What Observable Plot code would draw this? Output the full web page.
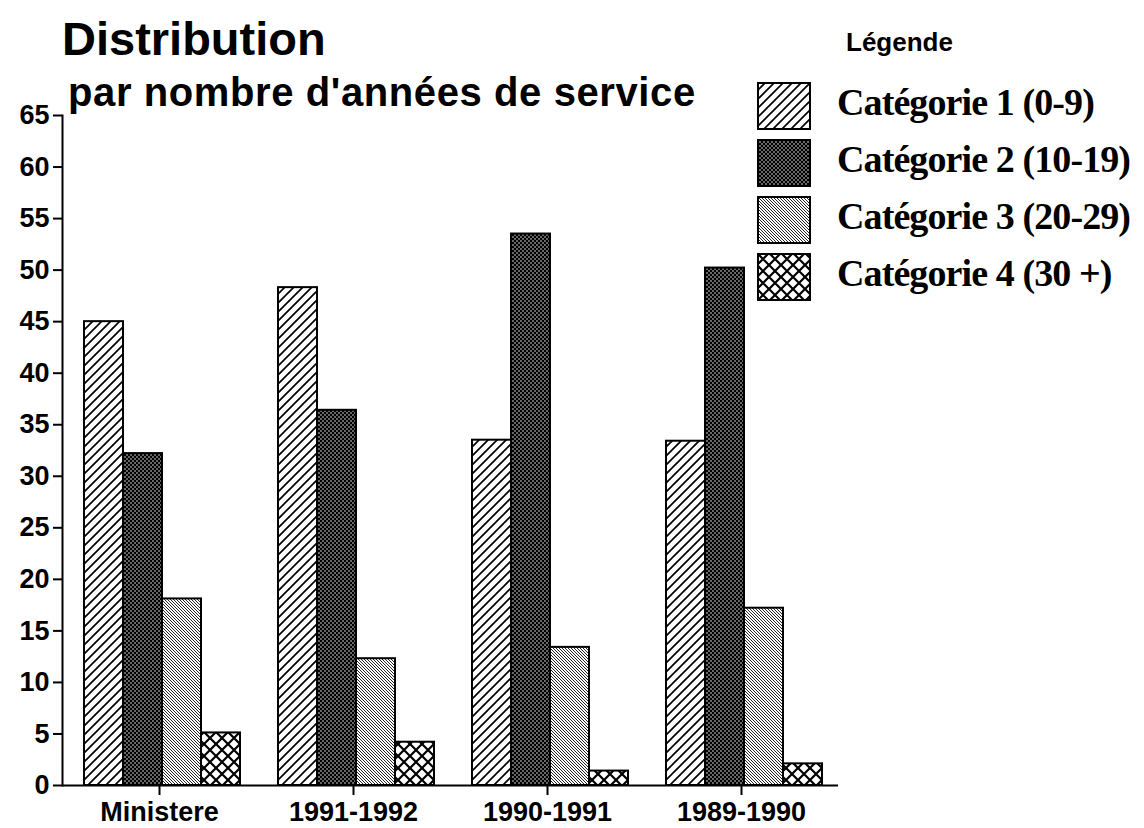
<!DOCTYPE html>
<html>
<head>
<meta charset="utf-8">
<script src="https://cdn.jsdelivr.net/npm/d3@7"></script>
<script src="https://cdn.jsdelivr.net/npm/@observablehq/plot@0.6"></script>
<style>
  html, body { margin: 0; padding: 0; background: #fff; }
  #wrap { position: relative; width: 1144px; height: 828px; overflow: hidden; background: #fff; }
  #chart { position: absolute; left: 0; top: 0; }
  .title { position: absolute; left: 62px; top: 15px; font: bold 47px "Liberation Sans", Arial, sans-serif; line-height: 1; white-space: nowrap; color: #000; }
  .subtitle { position: absolute; left: 68px; top: 72px; font: bold 40px "Liberation Sans", Arial, sans-serif; letter-spacing: 0.6px; line-height: 1; white-space: nowrap; color: #000; }
  .legtitle { position: absolute; left: 846px; top: 29px; font: bold 26px "Liberation Sans", Arial, sans-serif; line-height: 1; color: #000; }
  .legrow { position: absolute; left: 757px; height: 47px; }
  .legrow svg { display: block; }
  .legrow span { position: absolute; left: 80px; top: 1px; font: bold 38px "Liberation Serif", "Times New Roman", serif; letter-spacing: -0.9px; line-height: 1; white-space: nowrap; color: #000; }
  #chart svg [aria-label="y-axis tick"], #chart svg [aria-label="fx-axis tick"], #chart svg [aria-label="frame"], #chart svg [aria-label="rule"] { stroke-width: 2px; }
</style>
</head>
<body>
<svg width="0" height="0" style="position:absolute">
  <defs>
    <pattern id="p1" width="9" height="9" patternUnits="userSpaceOnUse">
      <rect width="9" height="9" fill="#fff"/>
      <path d="M-2,2 L2,-2 M0,9 L9,0 M7,11 L11,7" stroke="#000" stroke-width="1.7"/>
    </pattern>
    <pattern id="p2" width="4" height="4" patternUnits="userSpaceOnUse">
      <rect width="4" height="4" fill="#000"/>
      <circle cx="1" cy="1" r="0.75" fill="#fff"/>
      <circle cx="3" cy="3" r="0.75" fill="#fff"/>
    </pattern>
    <pattern id="p3" width="3" height="3" patternUnits="userSpaceOnUse">
      <rect width="3" height="3" fill="#fff"/>
      <path d="M0,0 L3,3 M-1,2 L1,4 M2,-1 L4,1" stroke="#222" stroke-width="1"/>
    </pattern>
    <pattern id="p4" width="12" height="12" patternUnits="userSpaceOnUse">
      <rect width="12" height="12" fill="#fff"/>
      <path d="M0,0 L12,12 M12,0 L0,12" stroke="#000" stroke-width="2.2"/>
    </pattern>
  </defs>
</svg>
<div id="wrap">
  <div id="chart"></div>
  <div class="title">Distribution</div>
  <div class="subtitle">par nombre d'années de service</div>
  <div class="legtitle">Légende</div>
  <div id="legend"></div>
</div>
<script>
const groups = ["Ministere", "1991-1992", "1990-1991", "1989-1990"];
const categories = ["Catégorie 1 (0-9)", "Catégorie 2 (10-19)", "Catégorie 3 (20-29)", "Catégorie 4 (30 +)"];
const cat1 = [45.0, 48.3, 33.5, 33.4];
const cat2 = [32.2, 36.4, 53.5, 50.2];
const cat3 = [18.1, 12.3, 13.4, 17.2];
const cat4 = [5.1, 4.2, 1.4, 2.1];
const yTicks = [0, 5, 10, 15, 20, 25, 30, 35, 40, 45, 50, 55, 60, 65];
const fills = ["url(#p1)", "url(#p2)", "url(#p3)", "url(#p4)"];

const series = [cat1, cat2, cat3, cat4];
const data = [];
groups.forEach((g, i) => categories.forEach((c, j) => data.push({group: g, cat: c, value: series[j][i]})));

const chart = Plot.plot({
  width: 1144,
  height: 828,
  marginTop: 115,
  marginBottom: 43,
  marginLeft: 62,
  marginRight: 306,
  style: {fontFamily: "'Liberation Sans', Arial, sans-serif", fontSize: "27px", fontWeight: "bold", background: "transparent", color: "#000"},
  fx: {domain: groups, padding: 0, axis: "bottom", label: null, tickSize: 10, tickPadding: 6},
  x: {domain: categories, padding: 0, insetLeft: 20, insetRight: 15, axis: null},
  y: {domain: [0, 65], ticks: yTicks, tickSize: 9, tickPadding: 4, label: null, line: true},
  color: {domain: categories, range: fills},
  marks: [
    Plot.barY(data, {fx: "group", x: "cat", y: "value", fill: "cat", stroke: "#000", strokeWidth: 2, inset: 0}),
    Plot.ruleY([0], {stroke: "#000", strokeWidth: 2})
  ]
});
document.getElementById("chart").appendChild(chart);

const legend = document.getElementById("legend");
const tops = [82, 139, 196, 253];
categories.forEach((c, j) => {
  const row = document.createElement("div");
  row.className = "legrow";
  row.style.top = tops[j] + "px";
  row.innerHTML = `<svg width="54" height="48"><rect x="1" y="1" width="52" height="46" fill="${fills[j]}" stroke="#000" stroke-width="2"/></svg><span>${c}</span>`;
  legend.appendChild(row);
});
</script>
</body>
</html>
